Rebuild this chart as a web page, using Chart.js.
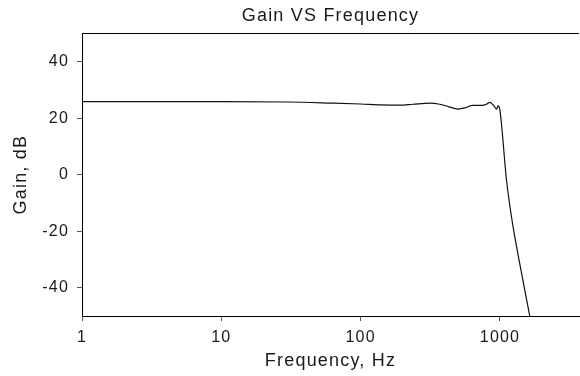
<!DOCTYPE html>
<html>
<head>
<meta charset="utf-8">
<script src="https://cdn.jsdelivr.net/npm/chart.js@4.4.1/dist/chart.umd.min.js"></script>
<style>
  html, body { margin: 0; padding: 0; background: #ffffff; }
  #wrap { width: 580px; height: 376px; }
</style>
</head>
<body>
<div id="wrap"><canvas id="c" width="580" height="376"></canvas></div>
<script>
// ---- data ----
const frequencyHz = [1, 3, 10, 30, 63, 100, 140, 190, 237, 313, 370, 430, 498, 560, 638, 741, 800, 845, 900, 944, 968, 997, 1114, 1210, 1387, 1636];
const gainDb      = [25.8, 25.8, 25.8, 25.7, 25.3, 25.0, 24.7, 24.6, 24.9, 25.3, 24.9, 24.0, 23.2, 23.6, 24.5, 24.5, 24.9, 25.6, 24.5, 23.2, 24.3, 23.0, -2.0, -15.0, -31.6, -50.0];
const xTickValues = [1, 10, 100, 1000];
const yTickValues = [-40, -20, 0, 20, 40];
const chartTitle = 'Gain VS Frequency';
const xTitle = 'Frequency, Hz';
const yTitle = 'Gain, dB';

const points = frequencyHz.map((f, i) => ({ x: f, y: gainDb[i] }));
const FONT = "'Liberation Sans', Arial, Helvetica, sans-serif";
const TEXT = '#1a1a1a';

const spacingPlugin = {
  id: 'spacing',
  beforeLayout(chart) { chart.ctx.letterSpacing = '1.2px'; },
  beforeDraw(chart) { chart.ctx.letterSpacing = '1.2px'; }
};
const topBorder = {
  id: 'topBorder',
  afterDraw(chart) {
    const { ctx, chartArea } = chart;
    ctx.save();
    ctx.strokeStyle = '#000000';
    ctx.lineWidth = 1;
    ctx.beginPath();
    ctx.moveTo(chartArea.left, Math.round(chartArea.top) + 0.5);
    ctx.lineTo(chartArea.right, Math.round(chartArea.top) + 0.5);
    ctx.stroke();
    ctx.restore();
  }
};

new Chart(document.getElementById('c'), {
  type: 'line',
  data: {
    datasets: [{
      data: points,
      borderColor: '#111111',
      borderWidth: 1.2,
      pointRadius: 0,
      cubicInterpolationMode: 'monotone',
      fill: false
    }]
  },
  options: {
    responsive: false,
    animation: false,
    devicePixelRatio: 1,
    layout: { padding: { left: 0, right: 1, top: 0, bottom: 0 } },
    plugins: {
      legend: { display: false },
      tooltip: { enabled: false },
      title: {
        display: true,
        fullSize: false,
        text: chartTitle,
        color: TEXT,
        font: { family: FONT, size: 18, weight: 'normal', lineHeight: 1.2 },
        padding: { top: 5, bottom: 6.7 }
      }
    },
    scales: {
      x: {
        type: 'logarithmic',
        min: 1,
        max: 3690,
        afterBuildTicks(scale) { scale.ticks = xTickValues.map(v => ({ value: v })); },
        afterFit(scale) { scale.height = 60; },
        ticks: {
          color: TEXT,
          font: { family: FONT, size: 16, lineHeight: 1.2 },
          padding: 7,
          maxRotation: 0,
          autoSkip: false,
          callback: (v) => String(v)
        },
        grid: { display: true, drawOnChartArea: false, drawTicks: true, tickLength: 5, color: '#555555', lineWidth: 1 },
        border: { display: true, color: '#000000', width: 1 },
        title: {
          display: true,
          text: xTitle,
          color: TEXT,
          font: { family: FONT, size: 18, lineHeight: 1.2 },
          padding: { top: 0, bottom: 4 }
        }
      },
      y: {
        type: 'linear',
        min: -50,
        max: 50,
        afterBuildTicks(scale) { scale.ticks = yTickValues.map(v => ({ value: v })); },
        afterFit(scale) { scale.width = 82; },
        ticks: {
          color: TEXT,
          font: { family: FONT, size: 16, lineHeight: 1.2 },
          padding: 8,
          callback: (v) => String(v)
        },
        grid: { display: true, drawOnChartArea: false, drawTicks: true, tickLength: 5, color: '#555555', lineWidth: 1 },
        border: { display: true, color: '#000000', width: 1 },
        title: {
          display: true,
          text: yTitle,
          color: TEXT,
          font: { family: FONT, size: 18, lineHeight: 1.2 },
          padding: { top: 10, bottom: 0 }
        }
      }
    }
  },
  plugins: [spacingPlugin, topBorder]
});
</script>
</body>
</html>
